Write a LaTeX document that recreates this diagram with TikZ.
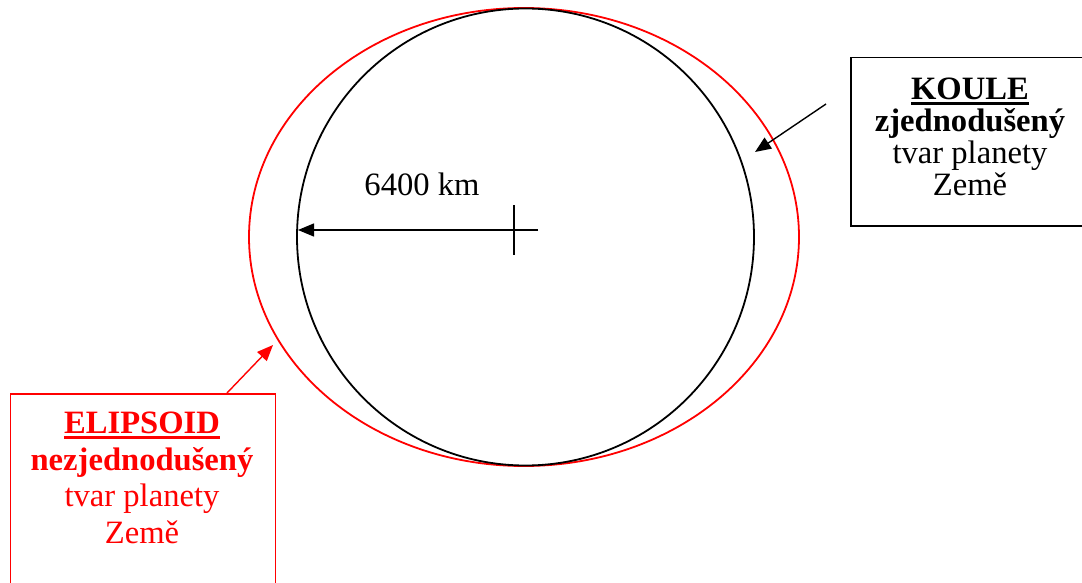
\documentclass[tikz,border=0pt]{standalone}
\usepackage{fontspec}
\setmainfont{Liberation Serif}
\usetikzlibrary{arrows.meta}
\newcommand{\thickul}[1]{\setbox0\hbox{#1}\rlap{\rule[-5pt]{\wd0}{2.4pt}}\box0}

\begin{document}
\begin{tikzpicture}[x=1pt,y=-1pt,
  txt/.style={inner sep=0pt,align=center,font=\fontsize{32.6}{32}\selectfont},
  box/.style={draw,line width=1.5pt,inner sep=0pt},
  sipka/.style={line width=1.4pt,-{Triangle[length=16pt,width=13pt]}}]
\useasboundingbox (0,0) rectangle (1082,583);
\clip (0,0) rectangle (1082,583);
% elipsoid a koule
\draw[red,line width=1.8pt] (524,237) ellipse [x radius=275,y radius=229];
\draw[line width=1.8pt] (525.5,237) circle [radius=228.5];
% polomer
\coordinate (stred) at (514,230);
\coordinate (okraj) at (298,230);
\draw[sipka] ([xshift=24pt]stred) -- (okraj);
\draw[line width=1.4pt] ([yshift=25pt]stred) -- ([yshift=-25pt]stred);
\node[txt,anchor=base] (polomer) at (422,195) {6400 km};
% popis koule
\node[box,minimum width=240,minimum height=168,anchor=north west] (kbox) at (850,57) {};
\node[txt,anchor=north] (ktext) at (970,78)
  {\thickul{\textbf{KOULE}}\\\textbf{zjednodušený}\\tvar planety\\Země};
\coordinate (kpata) at (826,104);
\coordinate (khrot) at (755,152);
\draw[sipka] (kpata) -- (khrot);
% popis elipsoidu
\node[box,draw=red,minimum width=265,minimum height=220,anchor=north west] (ebox) at (9.5,393) {};
\node[txt,red,anchor=north,font=\fontsize{32.6}{36.5}\selectfont] (etext) at (142,412)
  {\thickul{\textbf{ELIPSOID}}\\\textbf{nezjednodušený}\\tvar planety\\Země};
\coordinate (epata) at (227,393);
\coordinate (ehrot) at (273,345);
\draw[sipka,red] (epata) -- (ehrot);
\end{tikzpicture}
\end{document}
